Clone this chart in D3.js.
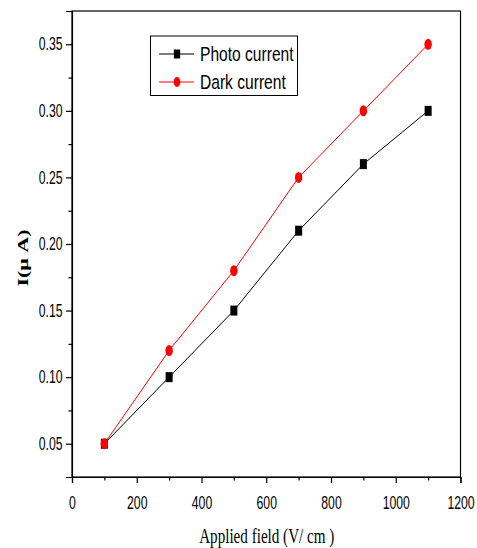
<!DOCTYPE html>
<html><head><meta charset="utf-8">
<script src="https://cdn.jsdelivr.net/npm/d3@7"></script>
<style>body{margin:0;background:#fff}svg{display:block}</style>
</head><body>
<svg id="c" width="477" height="548"></svg>
<script>
const fieldValues = [100, 300, 500, 700, 900, 1100];
const photoCurrent = [0.05, 0.10, 0.15, 0.21, 0.26, 0.30];
const darkCurrent = [0.05, 0.12, 0.18, 0.25, 0.30, 0.35];
const xTicks = [0, 200, 400, 600, 800, 1000, 1200];
const yTicks = [0.05, 0.10, 0.15, 0.20, 0.25, 0.30, 0.35];
const seriesNames = ["Photo current", "Dark current"];

const svg = d3.select("#c");
const L = 72, R = 460.5, T = 11, B = 477;
const x = d3.scaleLinear().domain([0, 1200]).range([L, R]);
const y = d3.scaleLinear().domain([0.025, 0.375]).range([B, T]);
const sansFont = "'Liberation Sans',Arial,sans-serif";
const serifFont = "'Liberation Serif','Times New Roman',serif";
const SQ = 0.7; // horizontal squish of the reference

// frame
svg.append("rect").attr("x", L).attr("y", T).attr("width", R - L).attr("height", B - T)
  .attr("fill", "none").attr("stroke", "#000").attr("stroke-width", 1.2);

// x axis
svg.append("g").attr("class", "xa").attr("transform", `translate(0,${B})`)
  .call(d3.axisBottom(x).tickValues(xTicks).tickFormat(d3.format("d")).tickSize(6).tickPadding(14));
svg.append("g").attr("transform", `translate(0,${B})`)
  .call(d3.axisBottom(x).tickValues(d3.range(100, 1200, 200)).tickFormat("").tickSize(3.5))
  .select(".domain").remove();
// y axis
svg.append("g").attr("class", "ya").attr("transform", `translate(${L},0)`)
  .call(d3.axisLeft(y).tickValues(yTicks).tickFormat(d3.format(".2f")).tickSize(6).tickPadding(3.5));
svg.append("g").attr("transform", `translate(${L},0)`)
  .call(d3.axisLeft(y).tickValues([0.075,0.125,0.175,0.225,0.275,0.325]).tickFormat("").tickSize(3.5))
  .select(".domain").remove();
svg.selectAll(".tick text").attr("font-family", sansFont).attr("font-size", 17.5).attr("fill", "#000");
svg.selectAll(".ya .tick text").attr("x", -9.5 / SQ).attr("transform", `scale(${SQ},1)`);
svg.selectAll(".xa .tick text").attr("transform", `scale(${SQ},1)`);
svg.selectAll(".tick line").attr("stroke", "#000").attr("stroke-width", 1.2);
svg.selectAll(".domain").attr("stroke", "#000").attr("stroke-width", 1.2);

// axis titles
svg.append("text").attr("transform", `translate(${(L + R) / 2 + 0.5},543) scale(0.72,1)`)
  .attr("text-anchor", "middle").attr("font-family", serifFont).attr("font-size", 21)
  .text("Applied field (V/ cm )");
svg.append("text").attr("transform", `translate(27.5,258) rotate(-90) scale(1,0.68)`)
  .attr("text-anchor", "middle").attr("font-family", serifFont)
  .attr("font-size", 22).attr("font-weight", "bold").text("I(μ A)");

const line = d3.line().x((d, i) => x(fieldValues[i])).y(d => y(d));
const colors = ["#000", "#ff0000"];
const data = [photoCurrent, darkCurrent];

function marker(g, k, cx, cy, s) {
  if (k === 0) g.append("rect").attr("x", cx - 3.5 * s).attr("y", cy - 5 * s).attr("width", 7 * s).attr("height", 10 * s).attr("fill", colors[0]);
  else g.append("ellipse").attr("cx", cx).attr("cy", cy).attr("rx", 3.7 * s).attr("ry", 5.5 * s).attr("fill", colors[1]);
}

data.forEach((vals, k) => {
  const g = svg.append("g");
  g.append("path").attr("d", line(vals)).attr("fill", "none").attr("stroke", colors[k]).attr("stroke-width", 1);
  vals.forEach((v, i) => marker(g, k, x(fieldValues[i]), y(v), 1));
});

// legend
const lg = svg.append("g");
lg.append("rect").attr("x", 150.5).attr("y", 36).attr("width", 147).attr("height", 59.5)
  .attr("fill", "#fff").attr("stroke", "#000").attr("stroke-width", 1);
seriesNames.forEach((name, k) => {
  const cy = 54 + k * 28;
  lg.append("line").attr("x1", 159).attr("x2", 194).attr("y1", cy).attr("y2", cy).attr("stroke", colors[k]).attr("stroke-width", 1);
  marker(lg, k, 177, cy, 0.9);
  lg.append("text").attr("transform", `translate(200,${cy + 6.8}) scale(0.8,1)`)
    .attr("font-family", sansFont).attr("font-size", 19.5).text(name);
});
</script>
</body></html>
